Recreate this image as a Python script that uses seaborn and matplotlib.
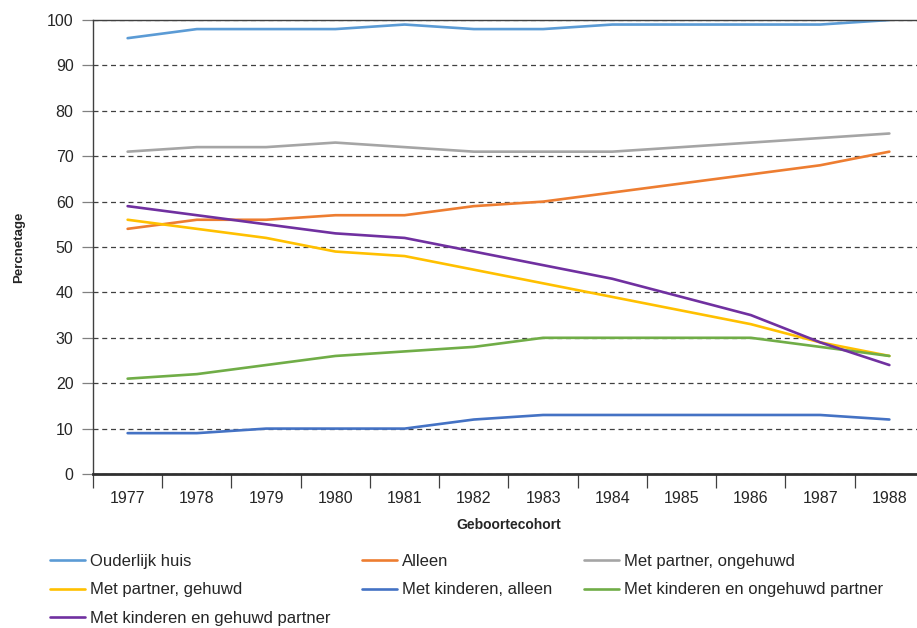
import pandas as pd
import numpy as np
import matplotlib
matplotlib.use('Agg')
import matplotlib.pyplot as plt
import seaborn as sns

jaren = ['1977', '1978', '1979', '1980', '1981', '1982', '1983', '1984', '1985', '1986', '1987', '1988']
ouderlijk_huis = [96, 98, 98, 98, 99, 98, 98, 99, 99, 99, 99, 100]
alleen = [54, 56, 56, 57, 57, 59, 60, 62, 64, 66, 68, 71]
partner_ongehuwd = [71, 72, 72, 73, 72, 71, 71, 71, 72, 73, 74, 75]
partner_gehuwd = [56, 54, 52, 49, 48, 45, 42, 39, 36, 33, 29, 26]
kinderen_alleen = [9, 9, 10, 10, 10, 12, 13, 13, 13, 13, 13, 12]
kinderen_ongehuwd = [21, 22, 24, 26, 27, 28, 30, 30, 30, 30, 28, 26]
kinderen_gehuwd = [59, 57, 55, 53, 52, 49, 46, 43, 39, 35, 29, 24]

reeksen = {
    'Ouderlijk huis': ouderlijk_huis,
    'Alleen': alleen,
    'Met partner, ongehuwd': partner_ongehuwd,
    'Met partner, gehuwd': partner_gehuwd,
    'Met kinderen, alleen': kinderen_alleen,
    'Met kinderen en ongehuwd partner': kinderen_ongehuwd,
    'Met kinderen en gehuwd partner': kinderen_gehuwd,
}
kleuren = ['#5B9BD5', '#ED7D31', '#A5A5A5', '#FFC000', '#4472C4', '#70AD47', '#7030A0']

rows = []
for naam, waarden in reeksen.items():
    for i, v in enumerate(waarden):
        rows.append({'idx': i, 'Percentage': v, 'Groep': naam})
df = pd.DataFrame(rows)

sns.set_style('white')
plt.rcParams['font.family'] = ['Liberation Sans', 'DejaVu Sans']

fig = plt.figure(figsize=(9.17, 6.28), dpi=100)
ax = fig.add_axes([93 / 917, 1 - 474 / 628, 831 / 917, 454 / 628])

sns.lineplot(data=df, x='idx', y='Percentage', hue='Groep', hue_order=list(reeksen.keys()),
             palette=kleuren, linewidth=1.9, ax=ax, legend=True)

ax.set_xlim(-0.5, 11.5)
ax.set_ylim(0, 100)
ax.set_yticks(range(0, 101, 10))
ax.yaxis.grid(True, linestyle=(0, (4, 3)), color='#404040', linewidth=0.9)
ax.set_axisbelow(True)

ax.set_xticks(range(12))
ax.set_xticklabels(jaren, fontsize=11.5)
ax.set_xticks(np.arange(-0.5, 12, 1), minor=True)
ax.tick_params(axis='x', which='major', bottom=False, length=0, pad=12)
ax.tick_params(axis='x', which='minor', bottom=True, length=10, width=0.9, color='#404040', direction='out')
ax.tick_params(axis='y', left=True, length=8, width=0.9, color='#808080', labelsize=11.5, pad=6)

for s in ['top', 'left']:
    ax.spines[s].set_color('#404040')
    ax.spines[s].set_linewidth(1.0)
ax.spines['right'].set_visible(False)
ax.spines['bottom'].set_color('#303030')
ax.spines['bottom'].set_linewidth(2.0)

ax.set_ylabel('Percnetage', fontsize=9.5, fontweight='bold', labelpad=16)
ax.set_xlabel('Geboortecohort', fontsize=10, fontweight='bold', labelpad=9)

# legenda in drie kolommen, rijgewijs zoals het origineel
handles, labels = ax.get_legend_handles_labels()
volgorde = [0, 3, 6, 1, 4, 2, 5]
ax.get_legend().remove()
fig.legend([handles[i] for i in volgorde], [labels[i] for i in volgorde], ncol=3,
           loc='upper left', bbox_to_anchor=(50 / 917, 1 - 554 / 628),
           bbox_transform=fig.transFigure, frameon=False,
           fontsize=12, handlelength=2.1, handletextpad=0.3, columnspacing=1.9,
           labelspacing=0.8, borderaxespad=0, borderpad=0)

fig.savefig('out.png', dpi=100)
